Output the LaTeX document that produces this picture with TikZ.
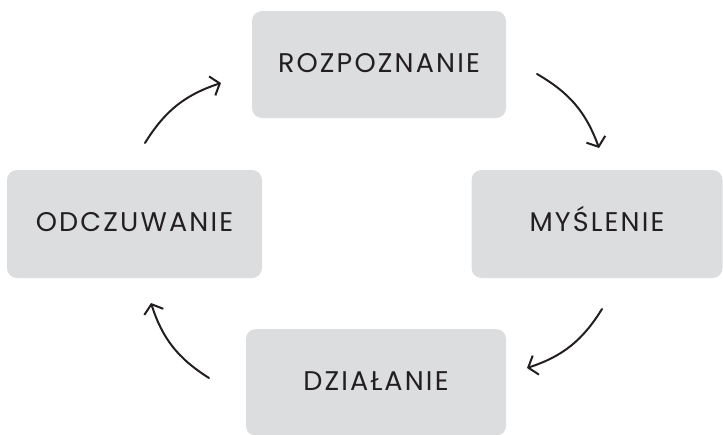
\documentclass[tikz,border=0pt]{standalone}
\usepackage{fontspec}
\setmainfont{Poppins}[LetterSpace=8]
\usetikzlibrary{arrows.meta}
\definecolor{boxgray}{HTML}{DCDDDF}
\definecolor{ink}{HTML}{231F20}
\tikzset{
  stagebox/.style={fill=boxgray, draw=none, rounded corners=10pt, inner sep=0pt},
  stagetext/.style={text=ink, font=\fontsize{27}{32}\selectfont, text height=0.7em, text depth=0pt, inner sep=0pt},
  cyclearrow/.style={draw=ink, line width=2pt, line cap=round, -{Straight Barb[length=8pt,width=20pt,line width=2pt]}, bend left=20}
}
\begin{document}
\begin{tikzpicture}[x=1pt,y=-1pt]
\useasboundingbox (0,0) rectangle (723,434);
\node[stagebox, minimum width=254pt, minimum height=107pt] (R) at (379,64.5) {};
\node[stagebox, minimum width=251pt, minimum height=108pt] (M) at (597,224) {};
\node[stagebox, minimum width=255pt, minimum height=108pt] (O) at (134.5,224) {};
\node[stagebox, minimum width=260pt, minimum height=107pt] (D) at (376,382.5) {};
\node[stagetext] (Rt) at ([yshift=-4pt]R.center) {ROZPOZNANIE};
\node[stagetext] (Mt) at ([yshift=-4pt]M.center) {MYŚLENIE};
\node[stagetext] (Ot) at ([yshift=-4pt]O.center) {ODCZUWANIE};
\node[stagetext] (Dt) at ([yshift=-4pt]D.center) {DZIAŁANIE};
\coordinate (a1s) at (145,143);
\coordinate (a1e) at (221,83);
\coordinate (a2s) at (537,74);
\coordinate (a2e) at (599,148);
\coordinate (a3s) at (602,309);
\coordinate (a3e) at (527,368);
\coordinate (a4s) at (209,378);
\coordinate (a4e) at (151,303);
\draw[cyclearrow] (a1s) to (a1e);
\draw[cyclearrow] (a2s) to (a2e);
\draw[cyclearrow] (a3s) to (a3e);
\draw[cyclearrow] (a4s) to (a4e);
\end{tikzpicture}
\end{document}
